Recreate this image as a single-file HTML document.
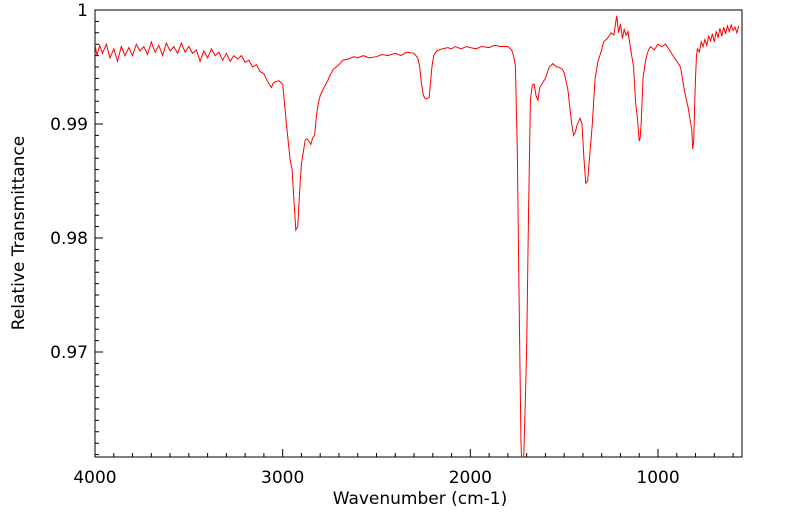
<!DOCTYPE html>
<html><head><meta charset="utf-8"><style>
html,body{margin:0;padding:0;background:#fff;width:799px;height:516px;overflow:hidden}
svg{display:block;font-family:"DejaVu Sans","Liberation Sans",sans-serif}
</style></head><body>
<svg id="chart" width="799" height="516">
<defs><clipPath id="clip"><rect x="95" y="10" width="647" height="447"/></clipPath></defs>
<rect x="95" y="10" width="647" height="447" fill="#fff" stroke="#000" stroke-width="1"/>
<g id="ticks"></g>
<g id="labels"></g>
<path id="series" fill="none" stroke="#ff0000" stroke-width="1" clip-path="url(#clip)"/>
<text x="420" y="504" font-size="17" text-anchor="middle">Wavenumber (cm-1)</text>
<text transform="translate(24,233) rotate(-90)" font-size="17" text-anchor="middle">Relative Transmittance</text>
</svg>
<script>
const wavenumbers=[4000,3990,3975,3960,3940,3920,3900,3880,3860,3840,3820,3800,3780,3760,3740,3720,3700,3680,3660,3640,3620,3600,3580,3560,3540,3520,3500,3480,3460,3440,3420,3400,3380,3360,3340,3320,3300,3280,3260,3240,3220,3200,3180,3160,3140,3120,3100,3080,3060,3050,3040,3020,3000,2980,2960,2950,2940,2935,2930,2920,2910,2900,2880,2870,2860,2850,2840,2830,2820,2810,2800,2780,2760,2750,2730,2700,2680,2650,2620,2600,2570,2540,2500,2470,2440,2400,2370,2340,2300,2280,2270,2260,2250,2240,2235,2220,2210,2205,2195,2180,2150,2120,2100,2080,2050,2020,2000,1970,1940,1900,1870,1840,1800,1780,1770,1760,1750,1740,1730,1725,1720,1715,1710,1700,1690,1680,1670,1660,1650,1640,1630,1620,1600,1580,1560,1540,1530,1510,1500,1480,1470,1460,1450,1440,1430,1415,1405,1395,1385,1375,1365,1350,1335,1320,1300,1290,1270,1250,1235,1220,
1210,1200,1190,1180,1170,1160,1150,1140,1130,1120,1110,1100,1095,1090,1085,1080,1070,1060,1050,1040,1020,1000,980,960,940,920,900,880,870,860,850,840,830,820,815,810,805,800,795,790,780,770,760,750,740,730,720,710,700,690,680,670,660,650,640,630,620,610,600,590,580,570,560,550];
const transmittance=[0.9970,0.9960,0.9969,0.9962,0.9970,0.9958,0.9966,0.9955,0.9968,0.9960,0.9967,0.9960,0.9970,0.9964,0.9968,0.9961,0.9972,0.9963,0.9969,0.9960,0.9971,0.9964,0.9968,0.9962,0.9971,0.9963,0.9968,0.9962,0.9965,0.9955,0.9964,0.9958,0.9966,0.9960,0.9963,0.9956,0.9962,0.9955,0.9960,0.9957,0.9960,0.9954,0.9956,0.9950,0.9952,0.9946,0.9944,0.9937,0.9932,0.9936,0.9937,0.9938,0.9935,0.9900,0.9868,0.9860,0.9833,0.9820,0.9807,0.9810,0.9840,0.9865,0.9886,0.9887,0.9885,0.9882,0.9888,0.9890,0.9908,0.9918,0.9925,0.9932,0.9938,0.9942,0.9948,0.9952,0.9956,0.9957,0.9959,0.9958,0.9960,0.9958,0.9959,0.9961,0.9960,0.9962,0.9960,0.9963,0.9962,0.9958,0.9950,0.9935,0.9925,0.9922,0.9922,0.9923,0.9940,0.9950,0.9960,0.9964,0.9966,0.9967,0.9966,0.9968,0.9966,0.9968,0.9967,0.9966,0.9968,0.9967,0.9969,0.9968,0.9968,0.9965,0.9960,0.9951,0.9877,0.9746,0.9620,0.9600,0.9595,0.9610,0.9640,0.9700,0.9820,0.9921,0.9934,0.9935,0.9925,0.9921,0.9932,0.9935,0.9940,0.9950,0.9953,0.9950,0.9950,0.9948,0.9945,0.9930,0.9915,0.9900,0.9890,0.9893,0.9900,0.9905,0.9900,0.9870,0.9848,0.9850,0.9870,0.9900,0.9940,0.9955,0.9965,0.9972,0.9975,0.9980,
0.9978,0.9995,0.9980,0.9988,0.9975,0.9983,0.9978,0.9981,0.9970,0.9960,0.9950,0.9920,0.9905,0.9885,0.9888,0.9900,0.9920,0.9940,0.9952,0.9960,0.9965,0.9968,0.9965,0.9970,0.9968,0.9970,0.9965,0.9960,0.9955,0.9950,0.9940,0.9930,0.9922,0.9915,0.9905,0.9895,0.9878,0.9885,0.9915,0.9940,0.9960,0.9966,0.9963,0.9972,0.9968,0.9974,0.9969,0.9977,0.9973,0.9979,0.9972,0.9981,0.9976,0.9984,0.9977,0.9985,0.9979,0.9986,0.9981,0.9987,0.9982,0.9985,0.9980,0.9986];
const xTicks=[4000,3000,2000,1000];
const yTicks=[0.97,0.98,0.99,1];
const yTickLabels=["0.97","0.98","0.99","1"];
const X0=95,X1=742,Y0=10,Y1=457;
const xScale=w=>X0+(4000-w)*0.18767;
const yScale=t=>Y0+(1-t)*11400;
const NS="http://www.w3.org/2000/svg";
const tg=document.getElementById('ticks'),lg=document.getElementById('labels');
let d='';
for(let w=3900;w>=600;w-=100){const x=xScale(w),maj=w%1000===0;d+=`M${x},${Y1}v${maj?-8:-4}`;}
for(let i=1;i<=44;i++){const t=1-i*0.001,y=yScale(t);if(y>Y1)break;const maj=i%10===0;d+=`M${X0},${y}h${maj?8:4}`;}
const tp=document.createElementNS(NS,'path');
tp.setAttribute('d',d);tp.setAttribute('stroke','#000');tp.setAttribute('stroke-width','1');


tg.appendChild(tp);
xTicks.forEach(w=>{const t=document.createElementNS(NS,'text');
t.setAttribute('x',xScale(w));t.setAttribute('y',483);t.setAttribute('font-size','17');t.setAttribute('text-anchor','middle');t.textContent=String(w);


lg.appendChild(t);});
yTicks.forEach((v,i)=>{const t=document.createElementNS(NS,'text');
t.setAttribute('x',88);t.setAttribute('y',yScale(v)+6);t.setAttribute('font-size','17');t.setAttribute('text-anchor','end');t.textContent=yTickLabels[i];


lg.appendChild(t);});
const n=Math.min(wavenumbers.length,transmittance.length);
let p='';
for(let i=0;i<n;i++){p+=(i?'L':'M')+xScale(wavenumbers[i]).toFixed(1)+','+yScale(transmittance[i]).toFixed(1);}
document.getElementById('series').setAttribute('d',p);
</script>
</body></html>
